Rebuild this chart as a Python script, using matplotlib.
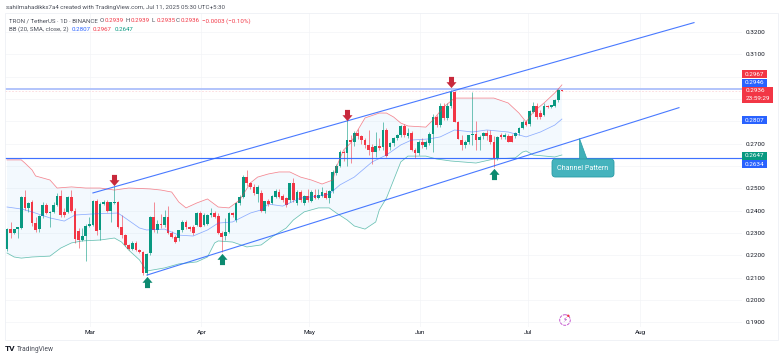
import numpy as np
import matplotlib
matplotlib.use('Agg')
import matplotlib.pyplot as plt
from matplotlib.path import Path
from matplotlib.patches import Rectangle, Polygon, FancyBboxPatch, Circle

plt.rcParams['font.family'] = ['Roboto', 'DejaVu Sans']

# daily candles, TRX/USDT
opens = [.2226,.2316,.2301,.2316,.2321,.2462,.2410,.2437,.2343,.2316,
         .2376,.2425,.2388,.2392,.2425,.2465,.2395,.2395,.2460,.2400,
         .2308,.2268,.2286,.2333,.2336,.2443,.2313,.2428,.2437,.2400,
         .2436,.2440,.2325,.2291,.2246,.2228,.2253,.2223,.2216,.2119,
         .2208,.2373,.2313,.2340,.2336,.2370,.2301,.2283,.2276,.2313,
         .2350,.2325,.2325,.2336,.2391,.2336,.2340,.2380,.2391,.2376,
         .2301,.2286,.2306,.2388,.2358,.2433,.2460,.2549,.2522,.2507,
         .2475,.2480,.2398,.2444,.2435,.2462,.2483,.2467,.2455,.2447,
         .2522,.2435,.2483,.2435,.2467,.2445,.2470,.2455,.2465,.2477,
         .2455,.2488,.2570,.2601,.2661,.2657,.2717,.2709,.2746,.2732,
         .2717,.2694,.2687,.2664,.2690,.2687,.2761,.2687,.2702,.2724,
         .2739,.2779,.2735,.2746,.2672,.2657,.2706,.2687,.2702,.2743,
         .2821,.2784,.2870,.2814,.2870,.2930,.2796,.2717,.2694,.2709,
         .2739,.2742,.2717,.2732,.2746,.2740,.2709,.2635,.2739,.2729,
         .2732,.2732,.2732,.2746,.2769,.2799,.2787,.2841,.2870,.2836,
         .2829,.2870,.2866,.2870,.2896,.2939]
highs = [.2321,.2350,.2316,.2328,.2465,.2492,.2440,.2446,.2373,.2380,
         .2440,.2433,.2397,.2440,.2477,.2492,.2410,.2465,.2492,.2410,
         .2320,.2320,.2340,.2373,.2448,.2452,.2440,.2448,.2446,.2440,
         .2510,.2445,.2380,.2295,.2252,.2265,.2265,.2230,.2220,.2210,
         .2375,.2437,.2360,.2385,.2403,.2421,.2310,.2290,.2310,.2360,
         .2358,.2330,.2335,.2395,.2400,.2388,.2385,.2413,.2400,.2390,
         .2310,.2365,.2395,.2395,.2440,.2470,.2560,.2582,.2530,.2520,
         .2515,.2490,.2445,.2450,.2470,.2495,.2495,.2475,.2460,.2525,
         .2545,.2490,.2490,.2470,.2495,.2490,.2495,.2495,.2505,.2490,
         .2490,.2580,.2610,.2670,.2670,.2807,.2740,.2755,.2765,.2740,
         .2725,.2760,.2700,.2750,.2725,.2799,.2770,.2705,.2730,.2745,
         .2785,.2790,.2770,.2755,.2680,.2715,.2725,.2715,.2750,.2832,
         .2830,.2880,.2880,.2880,.2940,.2935,.2800,.2739,.2715,.2740,
         .2933,.2800,.2740,.2750,.2760,.2760,.2735,.2735,.2748,.2748,
         .2745,.2745,.2750,.2775,.2805,.2805,.2850,.2885,.2880,.2850,
         .2880,.2875,.2875,.2900,.2945,.2939]
lows = [.2219,.2276,.2295,.2276,.2316,.2403,.2395,.2330,.2306,.2306,
        .2365,.2385,.2325,.2388,.2420,.2373,.2370,.2388,.2395,.2256,
        .2231,.2265,.2174,.2325,.2330,.2290,.2268,.2425,.2395,.2350,
        .2430,.2320,.2276,.2240,.2225,.2225,.2220,.2210,.2110,.2110,
        .2200,.2306,.2300,.2320,.2325,.2295,.2275,.2253,.2265,.2305,
        .2318,.2310,.2290,.2330,.2325,.2330,.2335,.2370,.2365,.2295,
        .2216,.2268,.2300,.2370,.2350,.2425,.2455,.2510,.2495,.2470,
        .2440,.2395,.2390,.2420,.2430,.2455,.2455,.2440,.2415,.2440,
        .2440,.2425,.2440,.2425,.2440,.2440,.2450,.2450,.2460,.2450,
        .2435,.2480,.2560,.2595,.2620,.2600,.2612,.2690,.2720,.2700,
        .2680,.2650,.2608,.2640,.2670,.2670,.2640,.2670,.2690,.2715,
        .2730,.2730,.2725,.2665,.2635,.2650,.2680,.2675,.2695,.2664,
        .2775,.2775,.2805,.2805,.2860,.2795,.2720,.2672,.2680,.2700,
        .2695,.2670,.2670,.2720,.2715,.2700,.2597,.2625,.2720,.2720,
        .2705,.2705,.2725,.2740,.2765,.2780,.2780,.2835,.2810,.2810,
        .2825,.2860,.2860,.2865,.2885,.2935]
closes = [.2316,.2301,.2316,.2325,.2462,.2410,.2433,.2343,.2313,.2376,
          .2425,.2388,.2395,.2425,.2465,.2380,.2380,.2460,.2400,.2271,
          .2268,.2286,.2333,.2340,.2443,.2310,.2428,.2437,.2400,.2437,
          .2437,.2325,.2291,.2246,.2228,.2253,.2223,.2216,.2119,.2204,
          .2373,.2313,.2340,.2335,.2373,.2301,.2283,.2261,.2313,.2350,
          .2325,.2318,.2298,.2391,.2328,.2380,.2380,.2391,.2373,.2301,
          .2283,.2306,.2388,.2380,.2433,.2462,.2549,.2522,.2504,.2477,
          .2504,.2398,.2444,.2430,.2465,.2488,.2462,.2447,.2425,.2522,
          .2447,.2483,.2447,.2467,.2447,.2482,.2455,.2470,.2482,.2458,
          .2488,.2574,.2601,.2661,.2656,.2717,.2709,.2746,.2732,.2717,
          .2694,.2672,.2664,.2690,.2682,.2761,.2645,.2702,.2724,.2739,
          .2779,.2739,.2746,.2672,.2657,.2709,.2694,.2706,.2743,.2821,
          .2784,.2870,.2814,.2870,.2933,.2796,.2721,.2694,.2709,.2739,
          .2742,.2717,.2730,.2746,.2732,.2709,.2635,.2729,.2729,.2739,
          .2709,.2709,.2746,.2769,.2799,.2784,.2844,.2870,.2821,.2821,
          .2870,.2866,.2873,.2896,.2941,.2936]

# Bollinger bands read at some candle numbers
upper_idx = [0,4,5,7,8,12,14,18,22,26,30,34,40,43,46,48,50,53,56,59,62,65,68,70,73,76,79,82,85,88,91,92,94,96,98,100,104,106,108,110,112,117,119,122,125,130,136,140,143,145,147,150,153,155]
upper = [.2627,.2627,.2613,.2582,.2555,.2537,.2501,.2506,.2501,.2501,.2492,.2501,.2497,.2492,.2483,.2438,.2412,.2434,.2452,.2416,.2412,.2447,.2524,.2550,.2564,.2573,.2573,.2550,.2537,.2519,.2537,.2595,.2671,.2703,.2761,.2815,.2837,.2837,.2819,.2792,.2779,.2774,.2806,.2864,.2904,.2904,.2904,.2882,.2837,.2797,.2842,.2882,.2927,.2963]
basis_idx = [0,4,7,12,16,19,24,31,33,37,39,44,48,52,56,59,63,68,71,73,77,82,87,90,93,97,102,106,110,113,118,121,125,130,134,140,145,149,153,155]
basis = [.2416,.2407,.2394,.2367,.2353,.2380,.2385,.2389,.2367,.2322,.2313,.2317,.2290,.2286,.2313,.2344,.2349,.2389,.2403,.2429,.2420,.2456,.2465,.2474,.2515,.2550,.2618,.2649,.2694,.2716,.2721,.2730,.2761,.2752,.2761,.2752,.2730,.2752,.2783,.2810]
lower_idx = [0,2,4,7,12,15,18,21,26,30,32,34,37,39,44,48,53,56,58,59,63,67,71,74,78,80,83,87,90,92,95,97,100,103,104,106,108,110,112,117,120,124,131,136,142,144,145,147,153,155]
lower = [.2210,.2192,.2187,.2192,.2196,.2232,.2255,.2264,.2268,.2277,.2259,.2223,.2179,.2129,.2143,.2161,.2170,.2192,.2255,.2264,.2259,.2237,.2246,.2282,.2322,.2358,.2394,.2412,.2412,.2389,.2358,.2331,.2317,.2349,.2403,.2456,.2537,.2618,.2644,.2644,.2631,.2622,.2613,.2631,.2636,.2662,.2667,.2649,.2640,.2649]

# levels and drawings
resistance = 0.2946
support = 0.2634
last_price = 0.2936
channel_top_x = [24.0, 191.9]
channel_top_y = [0.2479, 0.3242]
channel_bot_x = [39.1, 187.7]
channel_bot_y = [0.2111, 0.2861]
down_x = [29.9, 95, 124]
down_y = [0.2535, 0.2826, 0.2974]
up_x = [39.1, 60, 136]
up_y = [0.2082, 0.2183, 0.2564]

month_pos = [23.2, 54.3, 84.4, 115.5, 145.5, 176.8]
month_names = ['Mar', 'Apr', 'May', 'Jun', 'Jul', 'Aug']
price_ticks = [0.19, 0.20, 0.21, 0.22, 0.23, 0.24, 0.25, 0.26, 0.27, 0.28, 0.29, 0.30, 0.31, 0.32]
hidden_ticks = [0.26, 0.28, 0.29, 0.30]

GREEN = '#089981'
RED = '#f23645'
BLUE = '#2962ff'
W, H = 780, 358

fig = plt.figure(figsize=(7.8, 3.58), dpi=100, facecolor='white')
ax = fig.add_axes([5/W, 1-327/H, (742-5)/W, (327-13)/H])

opens, highs, lows, closes = map(np.array, (opens, highs, lows, closes))
x = np.arange(len(opens))
colors = np.where(closes >= opens, GREEN, RED)

# band shade first, then grid-level lines, then candles
ax.fill(upper_idx + lower_idx[::-1], upper + lower[::-1], color='#2196f3', alpha=0.05, lw=0, zorder=1)
ax.vlines(x, lows, highs, colors=colors, lw=0.4, zorder=3)
ax.bar(x, np.abs(closes-opens), bottom=np.minimum(opens, closes), width=0.76, color=colors, lw=0, zorder=4)

ax.plot(upper_idx, upper, color=RED, lw=0.55, alpha=0.6, zorder=5)
ax.plot(basis_idx, basis, color=BLUE, lw=0.55, alpha=0.5, zorder=5)
ax.plot(lower_idx, lower, color=GREEN, lw=0.55, alpha=0.6, zorder=5)

ax.axhline(resistance, color='#b2c4fb', lw=1.4, zorder=2)
ax.axhline(last_price, color=RED, lw=0.4, ls=(0, (3, 3)), alpha=0.3, zorder=2)
ax.axhline(support, color=BLUE, lw=0.85, alpha=0.9, zorder=6)

ax.plot(channel_top_x, channel_top_y, color=BLUE, lw=0.8, alpha=0.85, zorder=6)
ax.plot(channel_bot_x, channel_bot_y, color=BLUE, lw=0.8, alpha=0.85, zorder=6)

# block arrows
arrow_dn = Path([(-.45, 1), (.45, 1), (.45, .05), (.9, .05), (0, -1), (-.9, .05), (-.45, .05), (-.45, 1)], closed=True)
arrow_up = Path([(-.45, -1), (.45, -1), (.45, -.05), (.9, -.05), (0, 1), (-.9, -.05), (-.45, -.05), (-.45, -1)], closed=True)
ax.scatter(down_x, down_y, marker=arrow_dn, s=65, color='#c8293c', lw=0, zorder=7)
ax.scatter(up_x, up_y, marker=arrow_up, s=65, color='#0c8a70', lw=0, zorder=7)

ax.set_xlim((5-7)/3.58, (742-7)/3.58)
ax.set_ylim(0.32-(327-32)*0.000448, 0.32+(32-13)*0.000448)
ax.set_xticks(month_pos)
ax.set_xticklabels(month_names, fontsize=4.6, color='#131722')
ax.yaxis.tick_right()
ax.set_yticks(price_ticks)
ax.set_yticklabels(['' if p in hidden_ticks else '%.4f' % p for p in price_ticks], fontsize=4.6, color='#131722')
ax.tick_params(length=0, pad=2.5)
ax.tick_params(axis='x', pad=2.5)
ax.grid(True, color='#f3f4f7', lw=0.5)
ax.set_axisbelow(True)
for s in ax.spines.values():
    s.set_visible(False)

# overlay in pixel units for the TradingView furniture
ov = fig.add_axes([0, 0, 1, 1], facecolor='none')
ov.set_xlim(0, W)
ov.set_ylim(H, 0)
ov.axis('off')

ov.add_patch(Rectangle((5, 13), 773, 327, fill=False, ec='#eef0f5', lw=0.6))

TS = 4.4
TXT = '#4a4e59'
PR = '#f23645'
ov.text(6, 8, 'sahilmahadikks7a4 created with TradingView.com, Jul 11, 2025 05:30 UTC+5:30',
        fontsize=TS, color=TXT, va='center')
ov.text(9, 21, 'TRON / TetherUS · 1D · BINANCE', fontsize=TS, color=TXT, va='center')
for px, lab, val in [(100, 'O', '0.2939'), (126, 'H', '0.2939'), (152, 'L', '0.2935'), (176, 'C', '0.2936')]:
    ov.text(px, 21, lab, fontsize=TS, color=TXT, va='center')
    ov.text(px+4.5, 21, val, fontsize=TS, color=PR, va='center')
ov.text(202, 21, '−0.0003 (−0.10%)', fontsize=TS, color=PR, va='center')
ov.text(9, 29.5, 'BB (20, SMA, close, 2)', fontsize=TS, color=TXT, va='center')
ov.text(72, 29.5, '0.2807', fontsize=TS, color=BLUE, va='center')
ov.text(93, 29.5, '0.2967', fontsize=TS, color=PR, va='center')
ov.text(115, 29.5, '0.2647', fontsize=TS, color=GREEN, va='center')

# price flags on the scale
flags = [(70, 78, '#f23645', '0.2967'), (79, 87, '#2962ff', '0.2946'),
         (116, 124, '#2962ff', '0.2807'), (151.5, 159.5, '#089981', '0.2647'),
         (160, 168, '#2962ff', '0.2634')]
for y0, y1, col, lab in flags:
    ov.add_patch(Rectangle((742, y0), 25, y1-y0, fc=col, ec='none', zorder=3))
    ov.text(754.5, (y0+y1)/2, lab, fontsize=4.6, color='white', ha='center', va='center', zorder=4)
ov.add_patch(Rectangle((742, 87), 31, 15.5, fc='#f23645', ec='none', zorder=3))
ov.text(746, 91, '0.2936', fontsize=4.6, color='white', va='center', zorder=4)
ov.text(746, 98.3, '23:59:29', fontsize=4.6, color='white', va='center', zorder=4)

# channel pattern callout
ov.add_patch(Polygon([(579, 138), (579, 160), (587, 160)], closed=True, fc='#3fb0b8', ec='#2a9ca6', lw=0.5, zorder=3))
ov.add_patch(FancyBboxPatch((554, 161), 58, 14, boxstyle='round,pad=2,rounding_size=3.5', fc='#45b3bd', ec='#2a9ca6', lw=0.6, zorder=3))
ov.text(583, 168, 'Channel Pattern', fontsize=5.1, color='white', ha='center', va='center', zorder=4)

# flash icon
ov.add_patch(Circle((565, 320), 5.3, fill=False, ec='#c65bd0', lw=0.7, ls=(0, (3, 1))))
ov.text(565, 320.3, '⚡', fontsize=5, color='#b040c0', ha='center', va='center', family=['DejaVu Sans'])
ov.add_patch(Circle((568.3, 315.8), 1.2, fc='#f23645', ec='none'))

# logo
ov.text(5, 351, 'TV', fontsize=6, color='#131722', weight='bold', va='baseline')
ov.text(17, 351, 'TradingView', fontsize=4.8, color=TXT, va='baseline')

fig.savefig('out.png', dpi=100)
